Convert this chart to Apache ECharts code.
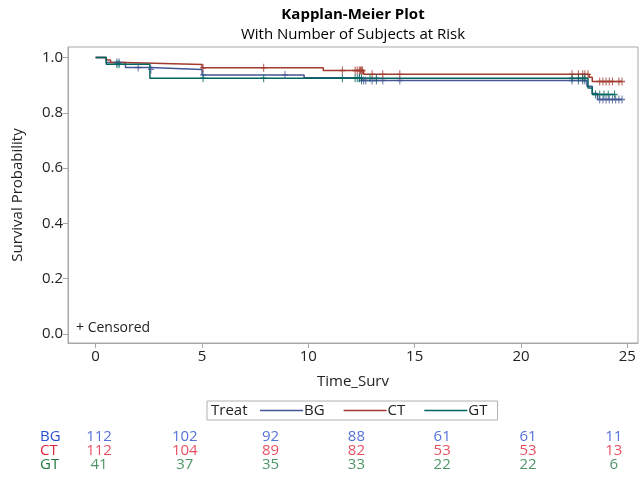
<!DOCTYPE html>
<html><head><meta charset="utf-8">
<script src="https://cdn.jsdelivr.net/npm/echarts@6/dist/echarts.min.js"></script>
<style>html,body{margin:0;padding:0;background:#fff}#c{width:640px;height:479px}</style>
</head><body><div id="c"></div>
<script>
const FONT = '"Open Sans", "Noto Sans", sans-serif';
const groups = ['BG', 'CT', 'GT'];
const lineColors = ['#445694', '#A23A2E', '#01665E'];
const riskColors = ['#2b4fcf', '#e3243b', '#217a41'];

// Kaplan-Meier step data (time, survival after event)
const bgTimes = [0, 0.5, 1.4, 2.55, 5.0, 9.8, 12.5, 23.1, 23.35, 23.6, 24.75];
const bgSurv  = [1.0, 0.982, 0.964, 0.957, 0.937, 0.927, 0.917, 0.896, 0.870, 0.848, 0.848];
const ctTimes = [0, 0.5, 0.7, 1.4, 5.0, 10.7, 12.6, 23.2, 23.35, 24.75];
const ctSurv  = [1.0, 0.991, 0.982, 0.975, 0.963, 0.953, 0.939, 0.929, 0.913, 0.913];
const gtTimes = [0, 0.5, 2.55, 23.15, 23.35, 24.4];
const gtSurv  = [1.0, 0.976, 0.925, 0.890, 0.866, 0.866];

// Censoring times
const bgCensor = [1.0, 1.1, 2.0, 2.6, 5.05, 8.9, 12.4, 12.5, 12.6, 12.7, 13.0, 13.2, 13.5, 14.3, 22.4, 22.7, 22.9, 23.0, 23.7, 23.85, 24.0, 24.15, 24.3, 24.45, 24.6, 24.75];
const ctCensor = [5.05, 7.9, 11.6, 12.2, 12.3, 12.4, 12.45, 12.5, 12.55, 13.0, 13.5, 14.3, 22.4, 22.7, 22.9, 23.0, 23.15, 23.7, 23.85, 24.0, 24.15, 24.3, 24.6, 24.75];
const gtCensor = [1.0, 1.1, 5.05, 7.9, 11.6, 12.2, 12.3, 12.4, 12.5, 12.9, 13.2, 22.4, 22.7, 22.9, 23.0, 23.5, 23.7, 23.9, 24.1, 24.4];

// Number at risk
const riskTimes = [0, 4, 8, 12, 16, 20, 24];
const bgRisk = [112, 102, 92, 88, 61, 61, 11];
const ctRisk = [112, 104, 89, 82, 53, 53, 13];
const gtRisk = [41, 37, 35, 33, 22, 22, 6];

const xTicks = [0, 5, 10, 15, 20, 25];
const yTicks = [0, 0.2, 0.4, 0.6, 0.8, 1.0];

const kmTimes = [bgTimes, ctTimes, gtTimes];
const kmSurv = [bgSurv, ctSurv, gtSurv];
const censors = [bgCensor, ctCensor, gtCensor];
const risks = [bgRisk, ctRisk, gtRisk];

function survAt(ti, sv, t) {
  let v = sv[0];
  for (let i = 0; i < ti.length; i++) { if (ti[i] <= t) v = sv[i]; }
  return v;
}

const series = [];
groups.forEach((g, i) => {
  series.push({
    name: g, type: 'line', step: 'end', symbol: 'none',
    xAxisIndex: 0, yAxisIndex: 0,
    lineStyle: { color: lineColors[i], width: 1.5 },
    itemStyle: { color: lineColors[i] },
    data: kmTimes[i].map((t, k) => [t, kmSurv[i][k]]),
    z: 3
  });
});
groups.forEach((g, i) => {
  series.push({
    name: g + ' censored', type: 'scatter',
    xAxisIndex: 0, yAxisIndex: 0,
    symbol: 'path://M5,0 L5,10 M0,5 L10,5', symbolSize: [6, 8],
    itemStyle: { color: 'rgba(0,0,0,0)', borderColor: lineColors[i], borderWidth: 1.2 },
    data: censors[i].map(t => [t, survAt(kmTimes[i], kmSurv[i], t)]),
    z: 4, silent: true
  });
});
groups.forEach((g, i) => {
  series.push({
    name: g + ' at risk', type: 'scatter',
    xAxisIndex: 1, yAxisIndex: 1, symbolSize: 0,
    data: riskTimes.map((t, k) => [t, g, risks[i][k]]),
    label: { show: true, position: 'inside', formatter: p => String(p.value[2]),
      color: riskColors[i], fontSize: 15, fontFamily: FONT },
    silent: true
  });
});

const chart = echarts.init(document.getElementById('c'), null, { renderer: 'canvas' });
chart.setOption({
  animation: false,
  backgroundColor: '#fff',
  grid: [
    { left: 68, right: 2, top: 47, height: 296, show: true, borderColor: '#a8a8a8', borderWidth: 1, backgroundColor: 'transparent' },
    { left: 68, right: 2, top: 430, height: 42 }
  ],
  xAxis: [
    { type: 'value', gridIndex: 0, min: -1.3, max: 25.5,
      axisLine: { show: true, onZero: false, lineStyle: { color: '#a8a8a8' } },
      axisTick: { show: true, customValues: xTicks, length: 5, lineStyle: { color: '#a8a8a8' } },
      axisLabel: { customValues: xTicks, color: '#222', fontSize: 15, fontFamily: FONT, margin: 6 },
      splitLine: { show: false } },
    { type: 'value', gridIndex: 1, min: -1.445, max: 25.13, show: false }
  ],
  yAxis: [
    { type: 'value', gridIndex: 0, min: -0.033, max: 1.038,
      axisLine: { show: true, onZero: false, lineStyle: { color: '#a8a8a8' } },
      axisTick: { show: true, customValues: yTicks, length: 5, lineStyle: { color: '#a8a8a8' } },
      axisLabel: { customValues: yTicks, formatter: v => v.toFixed(1), color: '#222', fontSize: 15, fontFamily: FONT, margin: 5 },
      splitLine: { show: false } },
    { type: 'category', gridIndex: 1, data: groups, inverse: true,
      axisLine: { show: false }, axisTick: { show: false },
      axisLabel: { interval: 0, align: 'left', margin: 28, fontSize: 15, fontFamily: FONT,
        color: (v) => riskColors[groups.indexOf(v)] } }
  ],
  legend: {
    data: groups, left: 207, top: 401, orient: 'horizontal',
    icon: 'rect', itemWidth: 43, itemHeight: 1.5, itemGap: 19,
    padding: [2, 10, 2, 53],
    borderColor: '#b0b0b0', borderWidth: 1,
    textStyle: { color: '#222', fontSize: 15, fontFamily: FONT, padding: [0, 0, 0, -4] },
    selectedMode: false
  },
  graphic: [
    { type: 'text', x: 353, y: 15, style: { text: 'Kapplan-Meier Plot', font: 'bold 15px ' + FONT, fill: '#000', align: 'center', verticalAlign: 'middle' } },
    { type: 'text', x: 353, y: 35, style: { text: 'With Number of Subjects at Risk', font: '15px ' + FONT, fill: '#000', align: 'center', verticalAlign: 'middle' } },
    { type: 'text', x: 18, y: 195, rotation: Math.PI / 2, style: { text: 'Survival Probability', font: '15px ' + FONT, fill: '#222', align: 'center', verticalAlign: 'middle' } },
    { type: 'text', x: 353, y: 382, style: { text: 'Time_Surv', font: '15px ' + FONT, fill: '#222', align: 'center', verticalAlign: 'middle' } },
    { type: 'text', x: 76, y: 328, style: { text: '+ Censored', font: '14px ' + FONT, fill: '#222', align: 'left', verticalAlign: 'middle' } },
    { type: 'text', x: 211, y: 411, style: { text: 'Treat', font: '15px ' + FONT, fill: '#222', align: 'left', verticalAlign: 'middle' } }
  ],
  series: series
});
</script>
</body></html>
